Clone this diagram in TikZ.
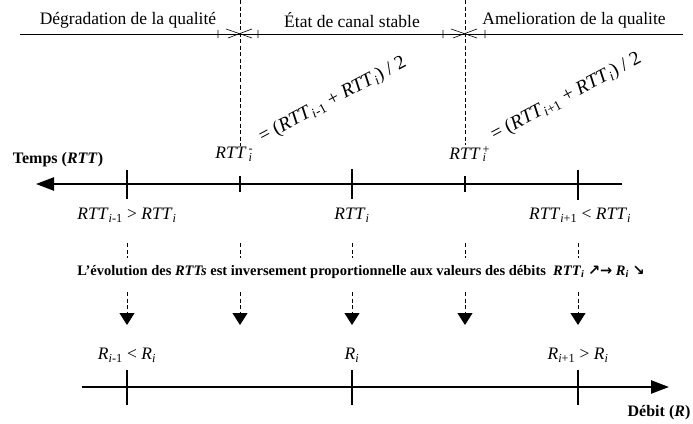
\documentclass[tikz,border=0pt]{standalone}
\usepackage{fontspec}
\setmainfont{Liberation Serif}
\newfontfamily\symfont{DejaVu Sans}
\usetikzlibrary{arrows.meta}

\newcommand{\rtt}{\textit{RTT}}
\newcommand{\sub}[1]{\textsubscript{#1}}
\newcommand{\supsub}[2]{\rlap{\textsuperscript{\,#1}}\textsubscript{\,#2}}

\tikzset{
    axis/.style   = {line width=2.4pt},
    tickmark/.style = {line width=1.4pt},
    guide/.style  = {dash pattern=on 4pt off 2.5pt, line width=0.8pt},
    drop/.style   = {guide, -{Triangle[width=15pt,length=12pt]}},
    lbl/.style    = {font=\fontsize{17.5}{20}\selectfont, inner sep=1pt},
    note/.style   = {font=\fontsize{14.5}{16}\selectfont\bfseries, inner sep=1pt},
    mean/.style   = {font=\fontsize{19.5}{22}\selectfont, inner sep=1pt, rotate=28, anchor=south west},
}

\begin{document}
\begin{tikzpicture}[x=1pt, y=-1pt]
    \useasboundingbox (0,0) rectangle (693,423);

    % zones along the top
    \coordinate (zl) at (20,34);
    \coordinate (zr) at (683,34);
    \coordinate (s1) at (240,34);
    \coordinate (s2) at (465,34);
    \draw[line width=0.6pt] (zl) -- (zr);
    \draw[line width=0.6pt]
        (s1) ++(-22,-4) -- ++(0,8)  (s1) ++(18,-4) -- ++(0,8)
        (s1) ++(-14,-5) -- ++(26,9) (s1) ++(-12,4) -- ++(24,-9)
        (s2) ++(-22,-4) -- ++(0,8)  (s2) ++(20,-4) -- ++(0,8)
        (s2) ++(-14,-5) -- ++(26,9) (s2) ++(-12,4) -- ++(24,-9);
    \node[lbl] (degr) at (128,20) {Dégradation de la qualité};
    \node[lbl] (stab) at (352,20) {État de canal stable};
    \node[lbl] (amel) at (574,20) {Amelioration de la qualite};

    % time axis (RTT)
    \coordinate (tend) at (36,184);
    \coordinate (tbeg) at (622,184);
    \coordinate (a1) at (127,184);
    \coordinate (a2) at (240,184);
    \coordinate (a3) at (352,184);
    \coordinate (a4) at (465,184);
    \coordinate (a5) at (578,184);
    \draw[axis, -{Triangle[width=13pt,length=18pt]}] (tbeg) -- (tend);
    \draw[tickmark]
        (a1) ++(0,-14) -- ++(0,29)
        (a2) ++(0,-8)  -- ++(0,16)
        (a3) ++(0,-15) -- ++(0,30)
        (a4) ++(0,-8)  -- ++(0,16)
        (a5) ++(0,-14) -- ++(0,30);
    \node[lbl, font=\fontsize{16}{18}\selectfont\bfseries] (temps) at (58,160) {Temps (\textit{RTT})};

    % bounds between the zones
    \node[lbl] (rttm) at (234,154) {\rtt\supsub{-}{\textit{i}}};
    \node[lbl] (rttp) at (468,154) {\rtt\supsub{+}{\textit{i}}};
    \coordinate (m1) at (240,0);
    \coordinate (m2) at (465,0);
    \draw[guide] (m1) -- (rttm.north -| m1);
    \draw[guide] (m2) -- (rttp.north -| m2);
    \node[mean] (meanm) at (264,148) {= (\rtt\sub{\textit{i}-1} + \rtt\sub{\textit{i}}) / 2};
    \node[mean] (meanp) at (496,146) {= (\rtt\sub{\textit{i}+1} + \rtt\sub{\textit{i}}) / 2};

    % values of RTT
    \node[lbl] (rtt1) at (127,215) {\rtt\sub{\textit{i}-1} > \rtt\sub{\textit{i}}};
    \node[lbl] (rtt3) at (352,215) {\rtt\sub{\textit{i}}};
    \node[lbl] (rtt5) at (580,215) {\rtt\sub{\textit{i}+1} < \rtt\sub{\textit{i}}};
    \draw[guide]
        (a1) ++(0,59) -- ++(0,15)  (a2) ++(0,59) -- ++(0,15)
        (a3) ++(0,59) -- ++(0,15)  (a4) ++(0,59) -- ++(0,15)
        (a5) ++(0,59) -- ++(0,15);
    \node[note] (evol) at (361,272) {L’évolution des \textit{RTTs} est inversement proportionnelle aux valeurs des débits\enspace
        \rtt\sub{\textit{i}} {\symfont\bfseries ↗→} \textit{R}\sub{\textit{i}} {\symfont ↘}};

    % drops to the rate axis
    \coordinate (d1) at (127,292);
    \coordinate (d2) at (240,292);
    \coordinate (d3) at (352,292);
    \coordinate (d4) at (465,292);
    \coordinate (d5) at (578,292);
    \draw[drop] (d1) -- ++(0,33);
    \draw[drop] (d2) -- ++(0,33);
    \draw[drop] (d3) -- ++(0,33);
    \draw[drop] (d4) -- ++(0,33);
    \draw[drop] (d5) -- ++(0,33);

    % rate axis (R)
    \node[lbl] (r1) at (127,355) {\textit{R}\sub{\textit{i}-1} < \textit{R}\sub{\textit{i}}};
    \node[lbl] (r3) at (352,355) {\textit{R}\sub{\textit{i}}};
    \node[lbl] (r5) at (578,355) {\textit{R}\sub{\textit{i}+1} > \textit{R}\sub{\textit{i}}};
    \coordinate (rbeg) at (82,387);
    \coordinate (rend) at (669,387);
    \coordinate (b1) at (127,387);
    \coordinate (b3) at (352,387);
    \coordinate (b5) at (578,387);
    \draw[axis, -{Triangle[width=13pt,length=18pt]}] (rbeg) -- (rend);
    \draw[tickmark]
        (b1) ++(0,-17) -- ++(0,35)
        (b3) ++(0,-17) -- ++(0,35)
        (b5) ++(0,-17) -- ++(0,35);
    \node[lbl, font=\fontsize{16}{18}\selectfont\bfseries] (debit) at (659,413) {Débit (\textit{R})};
\end{tikzpicture}
\end{document}
